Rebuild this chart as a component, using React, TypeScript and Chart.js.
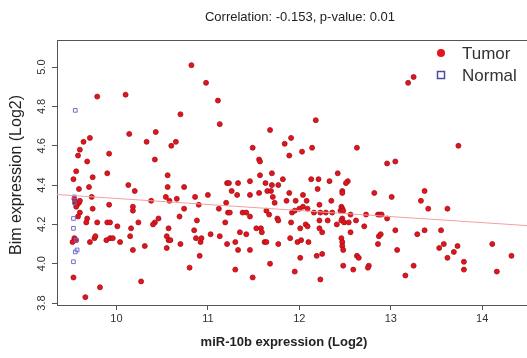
import { useEffect, useRef } from 'react';
import { Chart, registerables } from 'chart.js';

Chart.register(...registerables);

// ---- data ----
const tumorX = [
  10.82, 10.98, 11.11, 9.79, 10.10, 10.70, 11.13, 10.14, 10.43, 9.71,
  9.64, 10.33, 10.65, 10.60, 9.60, 9.58, 9.92, 9.68, 10.42, 9.56,
  9.90, 10.56, 12.18, 11.68, 11.91, 11.84, 11.49, 12.14, 12.03, 11.89,
  12.63, 11.56, 11.57, 11.70, 11.57, 12.42, 13.25, 13.19, 13.74, 12.96,
  13.05,
  9.74, 9.53, 10.13, 9.70, 10.56, 10.74, 10.20, 9.59, 11.00, 9.73,
  10.54, 10.86, 10.58, 10.66, 10.38, 10.90,
  9.54, 9.55, 9.57, 9.59, 9.60, 9.56,
  9.92, 10.18, 10.18, 9.74, 10.74, 9.60, 9.58, 10.69, 9.68, 9.67,
  9.79, 9.90, 9.93, 10.24, 10.42, 10.40, 10.46, 10.88, 10.01, 10.16,
  10.57, 10.85, 11.03, 9.54, 9.56, 9.52, 9.76, 9.77, 9.71, 9.89,
  9.93, 9.96, 10.04, 10.15, 10.55, 10.57, 10.59, 10.70, 10.87, 10.92,
  10.93, 10.18, 10.31, 10.55, 10.91, 10.80, 9.53, 10.27, 9.82, 9.66,
  11.82, 12.13, 12.21, 12.33, 11.21, 11.23, 11.33, 11.46, 11.63, 11.70,
  11.77, 11.65, 11.69, 12.53, 12.51, 12.20, 11.26, 11.32, 11.46, 11.56,
  11.89, 12.04, 11.71, 11.73, 11.86, 11.96, 12.08, 12.35, 12.47, 12.47,
  12.82, 11.20, 11.12, 11.22, 11.24, 11.38, 11.42, 11.46, 11.64, 11.67,
  11.76, 11.77, 11.92, 11.95, 12.00, 12.04, 12.09, 12.16, 12.22, 12.23,
  12.29, 12.36, 12.46, 12.47, 12.45, 12.48, 12.56, 12.73, 12.86, 12.47,
  12.46, 12.49, 12.41, 12.31, 12.22, 12.54, 12.62, 12.71, 11.19, 11.91,
  12.07, 12.09, 12.01, 12.22, 12.25, 11.53, 11.58, 11.59, 11.35, 11.42,
  12.56, 11.13, 11.90, 12.02, 11.98, 12.10, 12.46, 12.47, 12.47, 12.48,
  11.30, 11.21, 11.62, 11.64, 11.77, 11.33, 11.46, 12.25, 12.19, 12.63,
  12.65, 12.01, 11.68, 12.48, 12.76, 12.75, 12.59, 12.87, 11.30, 11.95,
  11.49, 12.23,
  13.01, 13.37, 13.33, 13.41, 13.62, 12.88, 12.90, 12.96, 13.05, 12.89,
  13.29, 13.37, 13.55, 12.86, 13.07, 13.53, 13.58, 13.69, 13.73, 13.62,
  13.80, 13.80, 13.25, 13.16, 14.11, 14.32, 14.16,
];
const tumorY = [
  5.01, 4.92, 4.83, 4.85, 4.86, 4.76, 4.71, 4.66, 4.67, 4.64,
  4.62, 4.62, 4.62, 4.60, 4.58, 4.55, 4.56, 4.52, 4.53, 4.47,
  4.46, 4.45, 4.73, 4.68, 4.64, 4.61, 4.59, 4.59, 4.57, 4.55,
  4.59, 4.53, 4.52, 4.46, 4.45, 4.46, 4.95, 4.92, 4.60, 4.51,
  4.52,
  4.44, 4.43, 4.40, 4.39, 4.39, 4.39, 4.37, 4.38, 4.35, 4.34,
  4.34, 4.34, 4.32, 4.33, 4.32, 4.30,
  4.33, 4.31, 4.30, 4.31, 4.32, 4.29,
  4.30, 4.29, 4.27, 4.28, 4.28, 4.26, 4.24, 4.24, 4.23, 4.21,
  4.21, 4.21, 4.21, 4.21, 4.21, 4.20, 4.23, 4.22, 4.19, 4.18,
  4.18, 4.17, 4.15, 4.13, 4.12, 4.11, 4.13, 4.14, 4.11, 4.12,
  4.13, 4.13, 4.11, 4.14, 4.14, 4.12, 4.12, 4.10, 4.13, 4.11,
  4.13, 4.07, 4.09, 4.08, 4.04, 3.98, 3.93, 3.91, 3.88, 3.83,
  4.43, 4.43, 4.43, 4.42, 4.41, 4.41, 4.41, 4.42, 4.41, 4.40,
  4.40, 4.37, 4.37, 4.42, 4.41, 4.38, 4.37, 4.35, 4.35, 4.36,
  4.36, 4.35, 4.34, 4.31, 4.32, 4.32, 4.32, 4.32, 4.37, 4.36,
  4.36, 4.31, 4.28, 4.26, 4.26, 4.26, 4.26, 4.24, 4.27, 4.25,
  4.23, 4.22, 4.26, 4.27, 4.28, 4.29, 4.28, 4.26, 4.30, 4.26,
  4.26, 4.26, 4.29, 4.28, 4.27, 4.27, 4.25, 4.25, 4.25, 4.23,
  4.22, 4.21, 4.20, 4.22, 4.22, 4.21, 4.22, 4.19, 4.21, 4.21,
  4.20, 4.19, 4.18, 4.18, 4.16, 4.18, 4.18, 4.16, 4.16, 4.15,
  4.16, 4.14, 4.13, 4.12, 4.11, 4.11, 4.13, 4.11, 4.09, 4.07,
  4.11, 4.10, 4.11, 4.11, 4.10, 4.07, 4.07, 4.05, 4.04, 4.04,
  4.03, 4.03, 4.00, 3.99, 3.99, 3.98, 3.97, 4.14, 3.97, 3.96,
  3.93, 3.92,
  4.34, 4.37, 4.32, 4.28, 4.28, 4.25, 4.25, 4.23, 4.17, 4.15,
  4.15, 4.17, 4.17, 4.10, 4.07, 4.08, 4.10, 4.06, 4.09, 4.03,
  4.01, 3.97, 3.99, 3.94, 4.10, 4.04, 3.96,
];
const normalX = [9.55, 9.54, 9.54, 9.53, 9.53, 9.56, 9.55, 9.57, 9.53];
const normalY = [4.78, 4.34, 4.31, 4.23, 4.18, 4.12, 4.06, 4.07, 4.01];

const fitX = [9.35, 14.49];
const fitY = [4.352, 4.194];

const xTicks = [10, 11, 12, 13, 14];
const xTickLabels = ['10', '11', '12', '13', '14'];
const yTicks = [3.8, 4.0, 4.2, 4.4, 4.6, 4.8, 5.0];
const yTickLabels = ['3.8', '4.0', '4.2', '4.4', '4.6', '4.8', '5.0'];

const xRange = [9.35, 14.49];
const yRange = [3.79, 5.138];

const titleText = 'Correlation: -0.153, p-value: 0.01';
const xTitle = 'miR-10b expression (Log2)';
const yTitle = 'Bim expression (Log2)';
const seriesNames = ['Tumor', 'Normal'];

const FONT = '"Liberation Sans", Arial, Helvetica, sans-serif';
const TUMOR_FILL = '#e3141c';
const TUMOR_EDGE = '#a3121a';
const NORMAL_EDGE = '#6f6fcc';
const AXIS = '#555555';

const decorPlugin = {
  id: 'decor',
  afterDraw(chart: any) {
    const { ctx, chartArea, scales } = chart;
    ctx.save();
    // frame: top line (left & bottom are axis borders)
    ctx.strokeStyle = AXIS;
    ctx.lineWidth = 1;
    ctx.beginPath();
    ctx.moveTo(chartArea.left + 0.5, chartArea.top + 0.5);
    ctx.lineTo(chartArea.right, chartArea.top + 0.5);
    ctx.stroke();

    // rotated y tick labels
    ctx.fillStyle = '#333333';
    ctx.font = `11px ${FONT}`;
    ctx.textAlign = 'center';
    ctx.textBaseline = 'middle';
    yTicks.forEach((v, i) => {
      const y = scales.y.getPixelForValue(v);
      ctx.save();
      ctx.translate(chartArea.left - 15, y);
      ctx.rotate(-Math.PI / 2);
      ctx.fillText(yTickLabels[i], 0, 0);
      ctx.restore();
    });

    // title
    ctx.fillStyle = '#222222';
    ctx.font = `13px ${FONT}`;
    ctx.fillText(titleText, 300, 17);

    // x title
    ctx.font = `bold 13px ${FONT}`;
    ctx.fillText(xTitle, 284, 342);

    // y title
    ctx.save();
    ctx.translate(17, 175);
    ctx.rotate(-Math.PI / 2);
    ctx.font = `16px ${FONT}`;
    ctx.fillText(yTitle, 0, 0);
    ctx.restore();

    // legend
    ctx.textAlign = 'left';
    ctx.font = `17px ${FONT}`;
    ctx.fillStyle = TUMOR_FILL;
    ctx.beginPath();
    ctx.arc(441, 53, 4, 0, Math.PI * 2);
    ctx.fill();
    ctx.strokeStyle = '#4a4aa8';
    ctx.lineWidth = 1.5;
    ctx.strokeRect(437.5, 71.5, 7, 7);
    ctx.fillStyle = '#333333';
    ctx.fillText(seriesNames[0], 462, 54);
    ctx.fillText(seriesNames[1], 462, 76);
    ctx.restore();
  },
};

export default function App() {
  const ref = useRef<HTMLCanvasElement | null>(null);
  useEffect(() => {
    if (!ref.current) return;
    const chart = new Chart(ref.current, {
      type: 'scatter',
      data: {
        datasets: [
          {
            type: 'line',
            label: 'fit',
            data: fitX.map((x, i) => ({ x, y: fitY[i] })),
            borderColor: '#f2a0a0',
            borderWidth: 1,
            pointRadius: 0,
            fill: false,
          } as any,
          {
            label: seriesNames[1],
            data: normalX.map((x, i) => ({ x, y: normalY[i] })),
            pointStyle: 'rect',
            pointRadius: 2.6,
            backgroundColor: 'rgba(0,0,0,0)',
            borderColor: NORMAL_EDGE,
            borderWidth: 1,
          },
          {
            label: seriesNames[0],
            data: tumorX.map((x, i) => ({ x, y: tumorY[i] })),
            pointStyle: 'circle',
            pointRadius: 2.5,
            backgroundColor: TUMOR_FILL,
            borderColor: TUMOR_EDGE,
            borderWidth: 0.8,
          },
        ],
      },
      options: {
        responsive: false,
        animation: false,
        events: [],
        layout: { autoPadding: false, padding: { top: 40, left: 0, right: 0, bottom: 0 } },
        plugins: {
          legend: { display: false },
          tooltip: { enabled: false },
          title: { display: false },
        },
        scales: {
          x: {
            type: 'linear',
            min: xRange[0],
            max: xRange[1],
            afterBuildTicks: (s: any) => {
              s.ticks = xTicks.map((v) => ({ value: v }));
            },
            afterFit: (s: any) => {
              s.height = 53;
              s.paddingLeft = 0;
              s.paddingRight = 0;
            },
            grid: {
              drawOnChartArea: false,
              drawTicks: true,
              tickLength: 5,
              color: AXIS,
            },
            border: { display: true, color: AXIS, width: 1 },
            ticks: {
              autoSkip: false,
              maxRotation: 0,
              padding: 2,
              color: '#333333',
              font: { family: FONT, size: 11 },
              callback: (v: any) => xTickLabels[xTicks.indexOf(Number(v))] ?? '',
            },
          },
          y: {
            type: 'linear',
            min: yRange[0],
            max: yRange[1],
            afterBuildTicks: (s: any) => {
              s.ticks = yTicks.map((v) => ({ value: v }));
            },
            afterFit: (s: any) => {
              s.width = 57;
              s.paddingTop = 0;
              s.paddingBottom = 0;
            },
            grid: {
              drawOnChartArea: false,
              drawTicks: true,
              tickLength: 5,
              color: AXIS,
            },
            border: { display: true, color: AXIS, width: 1 },
            ticks: { display: false },
          },
        },
      },
      plugins: [decorPlugin],
    });
    return () => chart.destroy();
  }, []);

  return (
    <div style={{ position: 'fixed', left: 0, top: 0, width: 527, height: 358, background: '#fff' }}>
      <canvas ref={ref} width={527} height={358} style={{ width: 527, height: 358 }} />
    </div>
  );
}
